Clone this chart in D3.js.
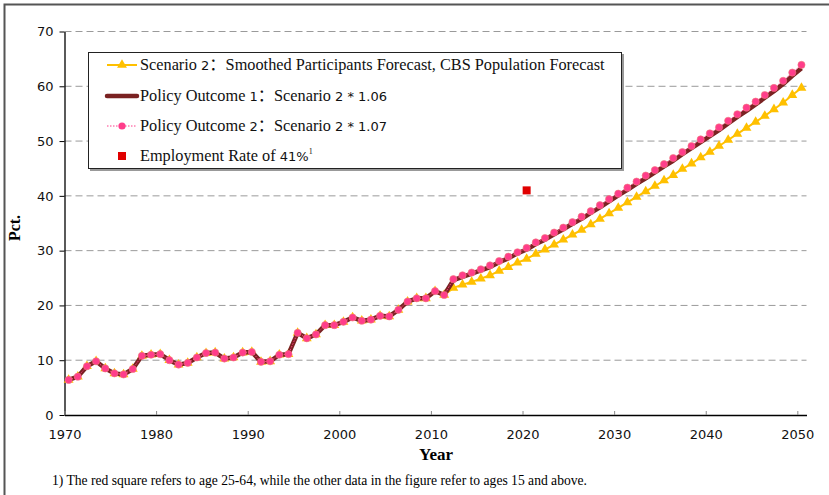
<!DOCTYPE html>
<html><head><meta charset="utf-8">
<script src="https://cdn.jsdelivr.net/npm/d3@7"></script>
<style>body{margin:0;background:#fff}svg{display:block}</style>
</head><body><svg id="chart" width="829" height="495"></svg>
<script>
// ---- data ----
const years = d3.range(1970, 2051);
const xTicks = [1970, 1980, 1990, 2000, 2010, 2020, 2030, 2040, 2050];
const yTicks = [0, 10, 20, 30, 40, 50, 60, 70];
// observed 1970-2011 (common to all series)
const historical = [6.4, 7.0, 8.9, 9.8, 8.5, 7.6, 7.4, 8.4, 10.8, 11.0,
  11.1, 10.0, 9.2, 9.5, 10.5, 11.3, 11.4, 10.3, 10.5, 11.4,
  11.5, 9.7, 9.8, 11.0, 11.1, 15.0, 14.0, 14.7, 16.4, 16.4,
  17.0, 17.8, 17.2, 17.4, 18.1, 18.0, 19.2, 20.7, 21.3, 21.3,
  22.6, 21.9];
// forecasts 2012-2050
const scenario2 = [23.2, 23.8, 24.3, 24.9, 25.5, 26.3, 27.0, 27.8, 28.5, 29.4,
  30.2, 31.1, 32.0, 32.9, 33.8, 34.8, 35.8, 36.8, 37.8, 38.8,
  39.8, 40.8, 41.8, 42.8, 43.8, 44.9, 45.9, 47.0, 48.0, 49.1,
  50.2, 51.3, 52.4, 53.5, 54.6, 55.8, 57.0, 58.4, 59.7];
const policy1 = [24.6, 25.2, 25.8, 26.4, 27.0, 27.9, 28.6, 29.5, 30.2, 31.2,
  32.0, 33.0, 33.9, 34.9, 35.8, 36.9, 37.9, 39.0, 40.1, 41.1,
  42.2, 43.2, 44.3, 45.4, 46.4, 47.6, 48.7, 49.8, 50.9, 52.0,
  53.2, 54.4, 55.5, 56.7, 57.9, 59.1, 60.4, 61.9, 63.3];
const policy2 = [24.8, 25.5, 26.0, 26.6, 27.3, 28.1, 28.9, 29.7, 30.5, 31.5,
  32.3, 33.3, 34.2, 35.2, 36.2, 37.2, 38.3, 39.4, 40.4, 41.5,
  42.6, 43.7, 44.7, 45.8, 46.9, 48.0, 49.1, 50.3, 51.4, 52.5,
  53.7, 54.9, 56.1, 57.2, 58.4, 59.7, 61.0, 62.5, 63.9];
const employmentYear = [2020];
const employmentRate = [41];

// ---- layout ----
const svg = d3.select("#chart");
const x = d3.scaleLinear().domain([1970, 2051]).range([64.5, 806.5]);
const y = d3.scaleLinear().domain([0, 70]).range([415, 31.5]);
const off = 0.45; // points sit inside each year
const serif = "'Liberation Serif','Times New Roman',serif";
const sans = "'DejaVu Sans',Verdana,sans-serif";

// frame
svg.append("rect").attr("x", 4.5).attr("y", 4.5).attr("width", 840).attr("height", 500)
  .attr("fill", "none").attr("stroke", "#555").attr("stroke-width", 2);

// gridlines
svg.append("g").selectAll("line").data(yTicks.filter(d => d > 0)).join("line")
  .attr("x1", x(1970)).attr("x2", x(2051))
  .attr("y1", d => y(d)).attr("y2", d => y(d))
  .attr("stroke", "#9a9a9a").attr("stroke-width", 1).attr("stroke-dasharray", "7,4");

// y axis
const ya = svg.append("g").attr("transform", `translate(${x(1970)},0)`)
  .call(d3.axisLeft(y).tickValues(yTicks).tickSize(5).tickSizeOuter(0).tickPadding(6));
ya.select(".domain").attr("stroke", "#000").attr("stroke-width", 1.3);
ya.selectAll(".tick line").attr("stroke", "#000");
ya.selectAll("text").attr("font-family", sans).attr("font-size", 13).attr("fill", "#111");

// x axis
const xa = svg.append("g").attr("transform", `translate(0,${y(0)})`)
  .call(d3.axisBottom(x).tickValues(xTicks).tickFormat(d3.format("d")).tickSize(-4).tickSizeOuter(0).tickPadding(15));
xa.select(".domain").attr("stroke", "#000").attr("stroke-width", 1.3);
xa.selectAll(".tick line").attr("stroke", "#888");
xa.selectAll("text").attr("font-family", sans).attr("font-size", 13).attr("fill", "#111");

// axis titles
svg.append("text").attr("transform", "translate(20,228) rotate(-90)").attr("text-anchor", "middle")
  .attr("font-family", serif).attr("font-weight", "bold").attr("font-size", 16).text("Pct.");
svg.append("text").attr("x", 436).attr("y", 460).attr("text-anchor", "middle")
  .attr("font-family", serif).attr("font-weight", "bold").attr("font-size", 17).text("Year");

// footnote
svg.append("text").attr("x", 52).attr("y", 485).attr("font-family", serif).attr("font-size", 13.6)
  .text("1) The red square refers to age 25-64, while the other data in the figure refer to ages 15 and above.");

// series
const histRows = historical.map((v, i) => ({ year: years[i], v }));
const fYears = years.slice(historical.length);
const mk = arr => histRows.concat(arr.map((v, i) => ({ year: fYears[i], v })));
const s2 = mk(scenario2), p1 = mk(policy1), p2 = mk(policy2);
const line = d3.line().x(d => x(d.year + off)).y(d => y(d.v));

const yellow = "#FFC000", dark = "#7A2222", pink = "#FF3D8B";
svg.append("path").datum(s2).attr("d", line).attr("fill", "none").attr("stroke", yellow).attr("stroke-width", 2);
svg.append("g").selectAll("path").data(s2).join("path")
  .attr("transform", d => `translate(${x(d.year + off)},${y(d.v)})`)
  .attr("d", d3.symbol(d3.symbolTriangle, 42)).attr("fill", yellow);
svg.append("path").datum(p1).attr("d", line).attr("fill", "none").attr("stroke", dark).attr("stroke-width", 4.5).attr("stroke-linejoin", "round");
svg.append("path").datum(p2).attr("d", line).attr("fill", "none").attr("stroke", pink).attr("stroke-width", 1).attr("stroke-dasharray", "1.5,1.5");
svg.append("g").selectAll("circle").data(p2).join("circle")
  .attr("cx", d => x(d.year + off)).attr("cy", d => y(d.v)).attr("r", 3.6)
  .attr("fill", pink).attr("stroke", "#F27A7A").attr("stroke-width", 0.6);

// employment square
svg.append("g").selectAll("rect").data(employmentYear).join("rect")
  .attr("x", (d) => x(d + off) - 4).attr("y", (d, i) => y(employmentRate[i]) - 4)
  .attr("width", 8).attr("height", 8).attr("fill", "#E00000");

// legend
const lg = svg.append("g");
lg.append("rect").attr("x", 90).attr("y", 54).attr("width", 534).attr("height", 117).attr("fill", "#999");
lg.append("rect").attr("x", 88.5).attr("y", 52.5).attr("width", 533).attr("height", 116)
  .attr("fill", "#fff").attr("stroke", "#222").attr("stroke-width", 1);
const lx1 = 107, lx2 = 137, lxm = 122, tx = 140;
const rows = [70, 101, 131, 161];
// row 1
lg.append("line").attr("x1", lx1).attr("x2", lx2).attr("y1", rows[0] - 5).attr("y2", rows[0] - 5).attr("stroke", yellow).attr("stroke-width", 2);
lg.append("path").attr("transform", `translate(${lxm},${rows[0] - 5})`).attr("d", d3.symbol(d3.symbolTriangle, 42)).attr("fill", yellow);
// row 2
lg.append("line").attr("x1", lx1).attr("x2", lx2).attr("y1", rows[1] - 5).attr("y2", rows[1] - 5).attr("stroke", dark).attr("stroke-width", 4.5).attr("stroke-linecap", "round");
// row 3
lg.append("line").attr("x1", lx1).attr("x2", lx2).attr("y1", rows[2] - 5).attr("y2", rows[2] - 5).attr("stroke", pink).attr("stroke-width", 1).attr("stroke-dasharray", "1.5,1.5");
lg.append("circle").attr("cx", lxm).attr("cy", rows[2] - 5).attr("r", 3.6).attr("fill", pink);
// row 4
lg.append("rect").attr("x", lxm - 4).attr("y", rows[3] - 9).attr("width", 8).attr("height", 8).attr("fill", "#E00000");

const legendText = [
  [["Scenario ", serif], ["2", sans], ["：", "'Noto Sans CJK SC',sans-serif"], ["Smoothed Participants Forecast, CBS Population Forecast", serif]],
  [["Policy Outcome ", serif], ["1", sans], ["：", "'Noto Sans CJK SC',sans-serif"], ["Scenario ", serif], ["2 * 1.06", sans]],
  [["Policy Outcome ", serif], ["2", sans], ["：", "'Noto Sans CJK SC',sans-serif"], ["Scenario ", serif], ["2 * 1.07", sans]],
  [["Employment Rate of ", serif], ["41%", sans]]
];
legendText.forEach((parts, i) => {
  const t = lg.append("text").attr("x", tx).attr("y", rows[i]).attr("font-size", 16).attr("fill", "#111");
  parts.forEach(([s, f]) => t.append("tspan").attr("font-family", f).attr("font-size", f === sans ? 13 : 16.3).text(s));
  if (i === 3) t.append("tspan").attr("font-family", serif).attr("font-size", 8).attr("dy", -7).text("1");
});
</script></body></html>
